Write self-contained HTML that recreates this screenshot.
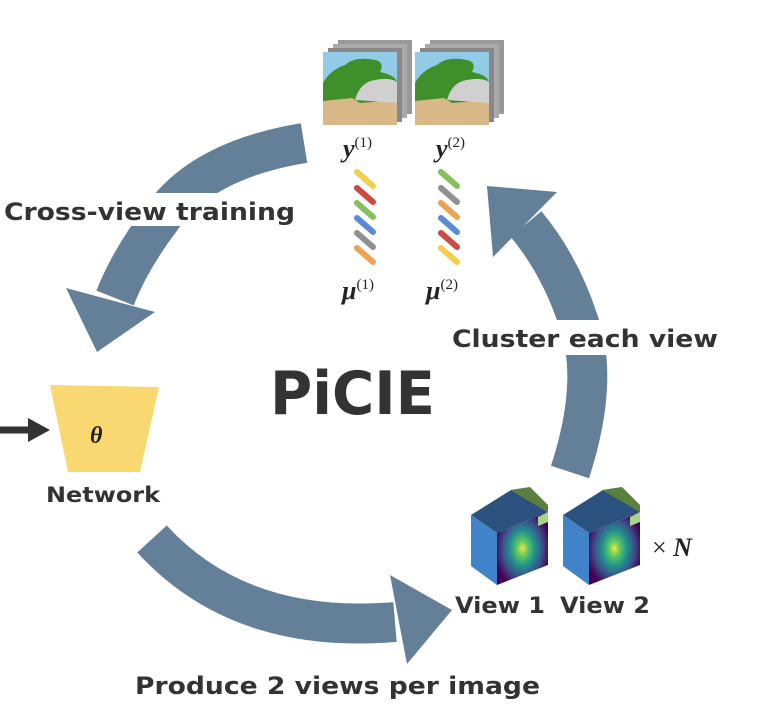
<!DOCTYPE html>
<html><head><meta charset="utf-8"><style>
body{margin:0;background:#fff;}
svg{display:block}
.t{font-family:"DejaVu Sans","Liberation Sans",sans-serif;font-weight:bold;fill:#333;}
.m{font-family:"Liberation Serif",serif;font-weight:bold;font-style:italic;fill:#222;}
</style></head><body>
<svg width="764" height="716" viewBox="0 0 764 716" xmlns="http://www.w3.org/2000/svg">
<defs>
<radialGradient id="hm" cx="50%" cy="50%" r="55%">
<stop offset="0" stop-color="#f0e640"/><stop offset="0.2" stop-color="#5cc863"/><stop offset="0.45" stop-color="#21908d"/><stop offset="0.7" stop-color="#3b528b"/><stop offset="1" stop-color="#440154"/>
</radialGradient>
</defs>
<g fill="none" stroke="#647f98" stroke-width="40">
<path d="M304,143 Q200,160 160,220 Q130,260 115,298"/>
<path d="M570,472 Q600,380 578,320 Q560,265 526,224"/>
<path d="M152,539 Q240,635 395,622"/>
</g>
<g fill="#647f98">
<polygon points="66,288 155,312 97,352"/>
<polygon points="487,186 557,192 493,257"/>
<polygon points="390,575 452,610 407,664"/>
</g>
<rect x="0" y="193" width="300" height="33" fill="#fff"/>
<rect x="450" y="320" width="275" height="35" fill="#fff"/>
<text class="t" x="4" y="220" font-size="24" textLength="291" lengthAdjust="spacingAndGlyphs">Cross-view training</text>
<text class="t" x="452" y="347" font-size="24" textLength="266" lengthAdjust="spacingAndGlyphs">Cluster each view</text>
<text class="t" x="270" y="414" font-size="60" textLength="165" lengthAdjust="spacingAndGlyphs">PiCIE</text>
<text class="t" x="46" y="502" font-size="21" textLength="114" lengthAdjust="spacingAndGlyphs">Network</text>
<text class="t" x="135" y="694" font-size="24" textLength="405" lengthAdjust="spacingAndGlyphs">Produce 2 views per image</text>
<text class="t" x="455" y="613" font-size="22" textLength="90" lengthAdjust="spacingAndGlyphs">View 1</text>
<text class="t" x="560" y="613" font-size="22" textLength="90" lengthAdjust="spacingAndGlyphs">View 2</text>
<text class="m" x="652" y="556" font-size="26"><tspan font-style="normal" font-weight="normal">×</tspan> N</text>
<polygon points="50,385 159,387 140,472 68,472" fill="#f9d872"/>
<text class="m" x="90" y="443" font-size="24">θ</text>
<line x1="0" y1="430" x2="30" y2="430" stroke="#333" stroke-width="7"/>
<polygon points="28,418 50,430 28,442" fill="#333"/>
<g>
<rect x="338" y="40" width="74" height="74" fill="#999"/>
<rect x="333" y="44" width="74" height="74" fill="#aaa"/>
<rect x="328" y="48" width="74" height="74" fill="#888"/>
<rect x="323" y="52" width="74" height="73" fill="#d8b887"/>
<rect x="323" y="52" width="74" height="42" fill="#92cbe6"/>
<path d="M323,83 Q330,70 345,65 Q355,56 375,60 Q385,62 380,72 Q395,75 397,82 L397,100 L360,103 L352,98 L323,101 Z" fill="#3f8f2a"/>
<path d="M355,100 Q360,82 375,80 Q390,77 397,82 L397,103 Z" fill="#d0d0d0"/>
</g>
<g>
<rect x="430" y="40" width="74" height="74" fill="#999"/>
<rect x="425" y="44" width="74" height="74" fill="#aaa"/>
<rect x="420" y="48" width="74" height="74" fill="#888"/>
<rect x="415" y="52" width="74" height="73" fill="#d8b887"/>
<rect x="415" y="52" width="74" height="42" fill="#92cbe6"/>
<path d="M415,83 Q422,70 437,65 Q447,56 467,60 Q477,62 472,72 Q487,75 489,82 L489,100 L452,103 L444,98 L415,101 Z" fill="#3f8f2a"/>
<path d="M447,100 Q452,82 467,80 Q482,77 489,82 L489,103 Z" fill="#d0d0d0"/>
</g>
<text class="m" x="343" y="157" font-size="26">y<tspan font-size="15" font-style="normal" font-weight="normal" dy="-10">(1)</tspan></text>
<text class="m" x="436" y="157" font-size="26">y<tspan font-size="15" font-style="normal" font-weight="normal" dy="-10">(2)</tspan></text>
<g stroke-width="6" stroke-linecap="round">
<line x1="357" y1="172" x2="373" y2="186" stroke="#f2cf4a"/>
<line x1="357" y1="188" x2="373" y2="202" stroke="#cc4a45"/>
<line x1="357" y1="203" x2="373" y2="217" stroke="#86bf5c"/>
<line x1="357" y1="218" x2="373" y2="232" stroke="#5b8ad6"/>
<line x1="357" y1="233" x2="373" y2="247" stroke="#909090"/>
<line x1="357" y1="248" x2="373" y2="262" stroke="#eda355"/>
<line x1="441" y1="172" x2="457" y2="186" stroke="#86bf5c"/>
<line x1="441" y1="188" x2="457" y2="202" stroke="#909090"/>
<line x1="441" y1="203" x2="457" y2="217" stroke="#eda355"/>
<line x1="441" y1="218" x2="457" y2="232" stroke="#5b8ad6"/>
<line x1="441" y1="233" x2="457" y2="247" stroke="#cc4a45"/>
<line x1="441" y1="248" x2="457" y2="262" stroke="#f2cf4a"/>
</g>
<text class="m" x="342" y="299" font-size="26">μ<tspan font-size="15" font-style="normal" font-weight="normal" dy="-10">(1)</tspan></text>
<text class="m" x="426" y="299" font-size="26">μ<tspan font-size="15" font-style="normal" font-weight="normal" dy="-10">(2)</tspan></text>
<g>
<polygon points="471,515 511,490 548,512 497,533" fill="#2b527f"/>
<polygon points="510,490 530,487 548,505 548,512" fill="#5a8040"/>
<polygon points="471,515 497,533 497,585 471,566" fill="#4183c8"/>
<polygon points="497,533 548,512 548,565 497,585" fill="url(#hm)"/>
<polygon points="538,517 548,512 548,522 538,526" fill="#a8d48a"/>
</g>
<g>
<polygon points="563,515 603,490 640,512 589,533" fill="#2b527f"/>
<polygon points="602,490 622,487 640,505 640,512" fill="#5a8040"/>
<polygon points="563,515 589,533 589,585 563,566" fill="#4183c8"/>
<polygon points="589,533 640,512 640,565 589,585" fill="url(#hm)"/>
<polygon points="630,517 640,512 640,522 630,526" fill="#a8d48a"/>
</g>
</svg>
</body></html>
